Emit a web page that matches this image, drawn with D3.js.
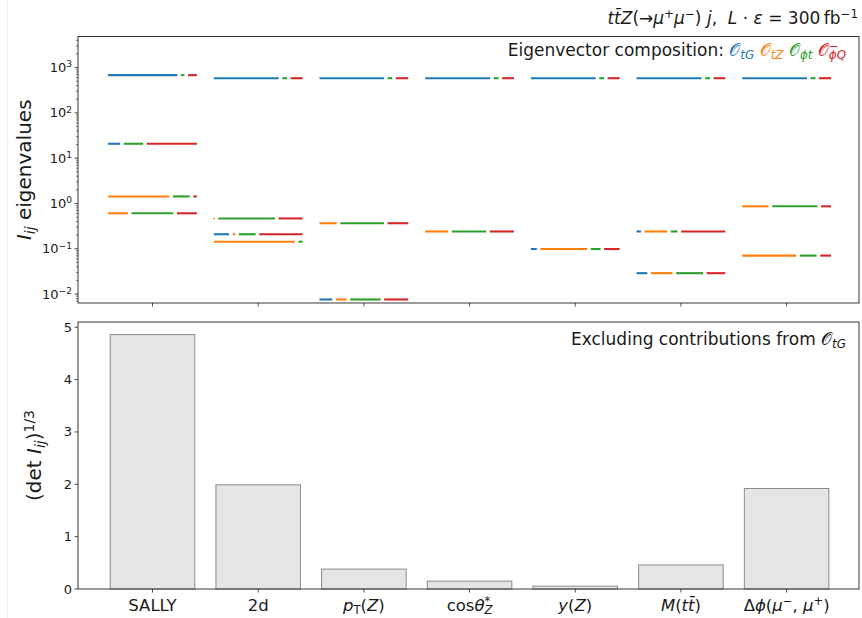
<!DOCTYPE html>
<html>
<head>
<meta charset="utf-8">
<script src="https://cdn.jsdelivr.net/npm/d3@7"></script>
<style>
  html, body { margin: 0; padding: 0; background: #fff; }
  svg text { font-family: "DejaVu Sans", sans-serif; fill: #1a1a1a; }
</style>
</head>
<body>
<svg id="chart" width="862" height="618"></svg>
<script>
// ---- data -------------------------------------------------------------
const categories = ["SALLY", "2d", "pT(Z)", "cos theta*_Z", "y(Z)", "M(tt)", "dphi(mu-,mu+)"];

// Fisher-information eigenvalues per observable set
const eigenvalues = [
  [680, 20.8, 1.43, 0.607],
  [582, 0.467, 0.209, 0.143],
  [582, 0.366, 0.0076],
  [582, 0.241],
  [582, 0.0986],
  [582, 0.241, 0.0289],
  [582, 0.865, 0.0707]
];

// squared eigenvector components: [O_tG, O_tZ, O_phit, O_phiQ^-]
const compositions = [
  [[0.80, 0, 0.08, 0.12], [0.157, 0, 0.258, 0.585], [0, 0.71, 0.23, 0.06], [0, 0.243, 0.512, 0.245]],
  [[0.752, 0, 0.094, 0.154], [0, 0.03, 0.68, 0.29], [0.192, 0.07, 0.23, 0.508], [0, 0.933, 0.067, 0]],
  [[0.748, 0, 0.092, 0.16], [0, 0.215, 0.532, 0.253], [0.164, 0.162, 0.382, 0.292]],
  [[0.752, 0, 0.095, 0.153], [0, 0.28, 0.428, 0.292]],
  [[0.75, 0, 0.095, 0.155], [0.087, 0.568, 0.15, 0.195]],
  [[0.753, 0, 0.095, 0.152], [0.07, 0.296, 0.116, 0.518], [0.141, 0.285, 0.343, 0.231]],
  [[0.75, 0, 0.095, 0.155], [0, 0.317, 0.55, 0.133], [0, 0.628, 0.23, 0.142]]
];

// (det I_ij)^(1/3) excluding O_tG
const detValues = [4.86, 1.99, 0.38, 0.15, 0.055, 0.46, 1.92];

const operatorColors = ["#1f77b4", "#ff7f0e", "#2ca02c", "#d62728"];
const logTicks = [1e-2, 1e-1, 1e0, 1e1, 1e2, 1e3];
const logTickExps = ["\u22122", "\u22121", "0", "1", "2", "3"];
const linTicks = [0, 1, 2, 3, 4, 5];

// Rich tick labels: runs of [text, style, stackWithNext]; styles: rm, it, sup, sub, supit, subit
const tickLabels = [
  [["SALLY", "rm"]],
  [["2d", "rm"]],
  [["p", "it"], ["T", "sub"], ["(", "rm"], ["Z", "it"], [")", "rm"]],
  [["cos", "rm"], ["\u03b8", "it"], ["*", "sup", true], ["Z", "subit"]],
  [["y", "it"], ["(", "rm"], ["Z", "it"], [")", "rm"]],
  [["M", "it"], ["(", "rm"], ["t", "it"], ["t\u0304", "it"], [")", "rm"]],
  [["\u0394", "rm"], ["\u03d5", "it"], ["(", "rm"], ["\u03bc", "it"], ["\u2212", "sup"], [",", "rm"], [" ", "rm"], ["\u03bc", "it"], ["+", "sup"], [")", "rm"]]
];

// ---- layout -----------------------------------------------------------
const svg = d3.select("#chart");
const left = 78, right = 859;
const top1 = 36.5, bot1 = 303;
const top2 = 322, bot2 = 589;

const x = d3.scaleLinear().domain([-0.705, 6.685]).range([left, right]);
const yLog = d3.scaleLog().domain([0.00635, 4850]).range([bot1, top1]);
const yLin = d3.scaleLinear().domain([0, 5.1]).range([bot2, top2]);

// faint outer edge line
svg.append("line").attr("x1", 7.5).attr("x2", 7.5).attr("y1", 0).attr("y2", 618)
  .attr("stroke", "#ececec").attr("stroke-width", 1);

// rich text helper: one <text> made of positioned tspans (math-style runs)
function runStyle(st, size) {
  let fs = size, dy = 0, italic = st === "it";
  if (st === "sup" || st === "supit") { fs = size * 0.7; dy = -size * 0.36; italic = st === "supit"; }
  if (st === "sub" || st === "subit") { fs = size * 0.7; dy = size * 0.2; italic = st === "subit"; }
  return { fs, dy, italic };
}
function richText(parent, runs, px, py, size, anchor) {
  const g = parent.append("g");
  // measure runs
  const probe = g.append("text").attr("xml:space", "preserve");
  const placed = [];
  let cx = 0, stackStart = null, stackW = 0;
  runs.forEach(r => {
    const [txt, st, stackNext, color] = r;
    const s = runStyle(st, size);
    probe.attr("font-size", s.fs).style("font-style", s.italic ? "italic" : "normal").text(txt);
    const w = probe.node().getComputedTextLength();
    let at = cx;
    if (stackNext) { stackStart = cx; stackW = w; }
    else if (stackStart !== null) { at = stackStart; cx = stackStart + Math.max(w, stackW); stackStart = null; }
    else cx += w;
    placed.push({ txt, s, at, color });
  });
  probe.remove();
  const off = anchor === "end" ? -cx : anchor === "middle" ? -cx / 2 : 0;
  const t = g.append("text").attr("xml:space", "preserve");
  placed.forEach(p => {
    const ts = t.append("tspan").attr("x", p.at).attr("y", p.s.dy)
      .attr("font-size", p.s.fs).style("font-style", p.s.italic ? "italic" : "normal").text(p.txt);
    if (p.color) ts.style("fill", p.color);
  });
  g.attr("transform", `translate(${px + off},${py})`);
  return g;
}

// ---- top panel: eigenvalue bars -----------------------------------------
const topG = svg.append("g");
const halfW = 0.42, gap = 1.8;

const segs = [];
categories.forEach((c, i) => {
  eigenvalues[i].forEach((ev, j) => {
    const comp = compositions[i][j];
    const x0 = x(i - halfW), x1 = x(i + halfW);
    const tot = d3.sum(comp);
    let acc = 0;
    const nz = comp.map((f, k) => ({ f, k })).filter(d => d.f > 0);
    nz.forEach((d, n) => {
      const b0 = x0 + (x1 - x0) * acc / tot;
      acc += d.f;
      const b1 = x0 + (x1 - x0) * acc / tot;
      let s = n === 0 ? b0 : b0 + gap;
      let e = n === nz.length - 1 ? b1 : b1 - gap;
      if (e - s < 1.2) { const m = (s + e) / 2; s = m - 0.6; e = m + 0.6; }
      segs.push({ s, e, y: yLog(ev), color: operatorColors[d.k] });
    });
  });
});

topG.selectAll("line.seg").data(segs).join("line").attr("class", "seg")
  .attr("x1", d => d.s).attr("x2", d => d.e)
  .attr("y1", d => d.y).attr("y2", d => d.y)
  .attr("stroke", d => d.color).attr("stroke-width", 2.1);

// log axis with minor ticks
const minor = [];
for (let e = -3; e <= 3; e++) for (let m = 2; m <= 9; m++) {
  const v = m * Math.pow(10, e);
  if (v >= yLog.domain()[0] && v <= yLog.domain()[1]) minor.push(v);
}
topG.selectAll("line.minor").data(minor).join("line").attr("class", "minor")
  .attr("x1", left - 2).attr("x2", left).attr("y1", d => yLog(d)).attr("y2", d => yLog(d))
  .attr("stroke", "#222").attr("stroke-width", 0.6);
topG.selectAll("line.major").data(logTicks).join("line").attr("class", "major")
  .attr("x1", left - 3.5).attr("x2", left).attr("y1", d => yLog(d)).attr("y2", d => yLog(d))
  .attr("stroke", "#222").attr("stroke-width", 0.8);
logTicks.forEach((v, i) => {
  richText(topG, [["10", "rm"], [logTickExps[i], "sup"]], left - 6, yLog(v) + 4.5, 13, "end");
});
topG.selectAll("line.xt").data(categories).join("line").attr("class", "xt")
  .attr("x1", (d, i) => x(i)).attr("x2", (d, i) => x(i))
  .attr("y1", bot1).attr("y2", bot1 + 3.5).attr("stroke", "#222").attr("stroke-width", 0.8);
topG.append("rect").attr("x", left).attr("y", top1).attr("width", right - left).attr("height", bot1 - top1)
  .attr("fill", "none").attr("stroke", "#222").attr("stroke-width", 0.9);

// top y label
const yl1 = svg.append("g").attr("transform", `translate(31,${(top1 + bot1) / 2}) rotate(-90)`);
richText(yl1, [["I", "it"], ["ij", "subit"], [" eigenvalues", "rm"]], 0, 0, 20, "middle");

// legend text
const O = "\ud835\udcaa";
richText(topG, [
  ["Eigenvector composition: ", "rm"],
  [O, "rm", false, operatorColors[0]], ["tG", "subit", false, operatorColors[0]], [" ", "rm"],
  [O, "rm", false, operatorColors[1]], ["tZ", "subit", false, operatorColors[1]], [" ", "rm"],
  [O, "rm", false, operatorColors[2]], ["\u03d5t", "subit", false, operatorColors[2]], [" ", "rm"],
  [O, "rm", false, operatorColors[3]], ["\u2212", "sup", true, operatorColors[3]], ["\u03d5Q", "subit", false, operatorColors[3]]
], 846, 56, 17, "end");

// title
richText(svg, [
  ["t", "it"], ["t\u0304", "it"], ["Z", "it"], ["(", "rm"], ["\u2192", "rm"], ["\u03bc", "it"], ["+", "sup"],
  ["\u03bc", "it"], ["\u2212", "sup"], [")", "rm"], [" ", "rm"], ["j", "it"], [",", "rm"], ["  ", "rm"],
  ["L", "it"], [" \u00b7 ", "rm"], ["\u03b5", "it"], [" = ", "rm"], ["300", "rm"], ["\u2009", "rm"],
  ["fb", "rm"], ["\u22121", "sup"]
], 858, 24, 17, "end");

// ---- bottom panel: determinant bars --------------------------------------
const botG = svg.append("g");
botG.selectAll("rect.bar").data(detValues).join("rect").attr("class", "bar")
  .attr("x", (d, i) => x(i - 0.4)).attr("width", x(0.4) - x(-0.4))
  .attr("y", d => yLin(d)).attr("height", d => yLin(0) - yLin(d))
  .attr("fill", "#e5e5e5").attr("stroke", "#8c8c8c").attr("stroke-width", 1);

botG.selectAll("line.yt").data(linTicks).join("line").attr("class", "yt")
  .attr("x1", left - 3.5).attr("x2", left).attr("y1", d => yLin(d)).attr("y2", d => yLin(d))
  .attr("stroke", "#222").attr("stroke-width", 0.8);
botG.selectAll("text.yt").data(linTicks).join("text").attr("class", "yt")
  .attr("x", left - 6).attr("y", d => yLin(d) + 4.5).attr("text-anchor", "end")
  .attr("font-size", 13).text(d => d);
botG.selectAll("line.xt").data(categories).join("line").attr("class", "xt")
  .attr("x1", (d, i) => x(i)).attr("x2", (d, i) => x(i))
  .attr("y1", bot2).attr("y2", bot2 + 3.5).attr("stroke", "#222").attr("stroke-width", 0.8);
tickLabels.forEach((runs, i) => richText(botG, runs, x(i), 611, 16.5, "middle"));
botG.append("rect").attr("x", left).attr("y", top2).attr("width", right - left).attr("height", bot2 - top2)
  .attr("fill", "none").attr("stroke", "#222").attr("stroke-width", 0.9);

richText(botG, [["Excluding contributions from ", "rm"], [O, "rm"], ["tG", "subit"]], 846, 345, 17, "end");

const yl2 = svg.append("g").attr("transform", `translate(41,${(top2 + bot2) / 2}) rotate(-90)`);
richText(yl2, [["(det ", "rm"], ["I", "it"], ["ij", "subit"], [")", "rm"], ["1/3", "sup"]], 0, 0, 20, "middle");
</script>
</body>
</html>
